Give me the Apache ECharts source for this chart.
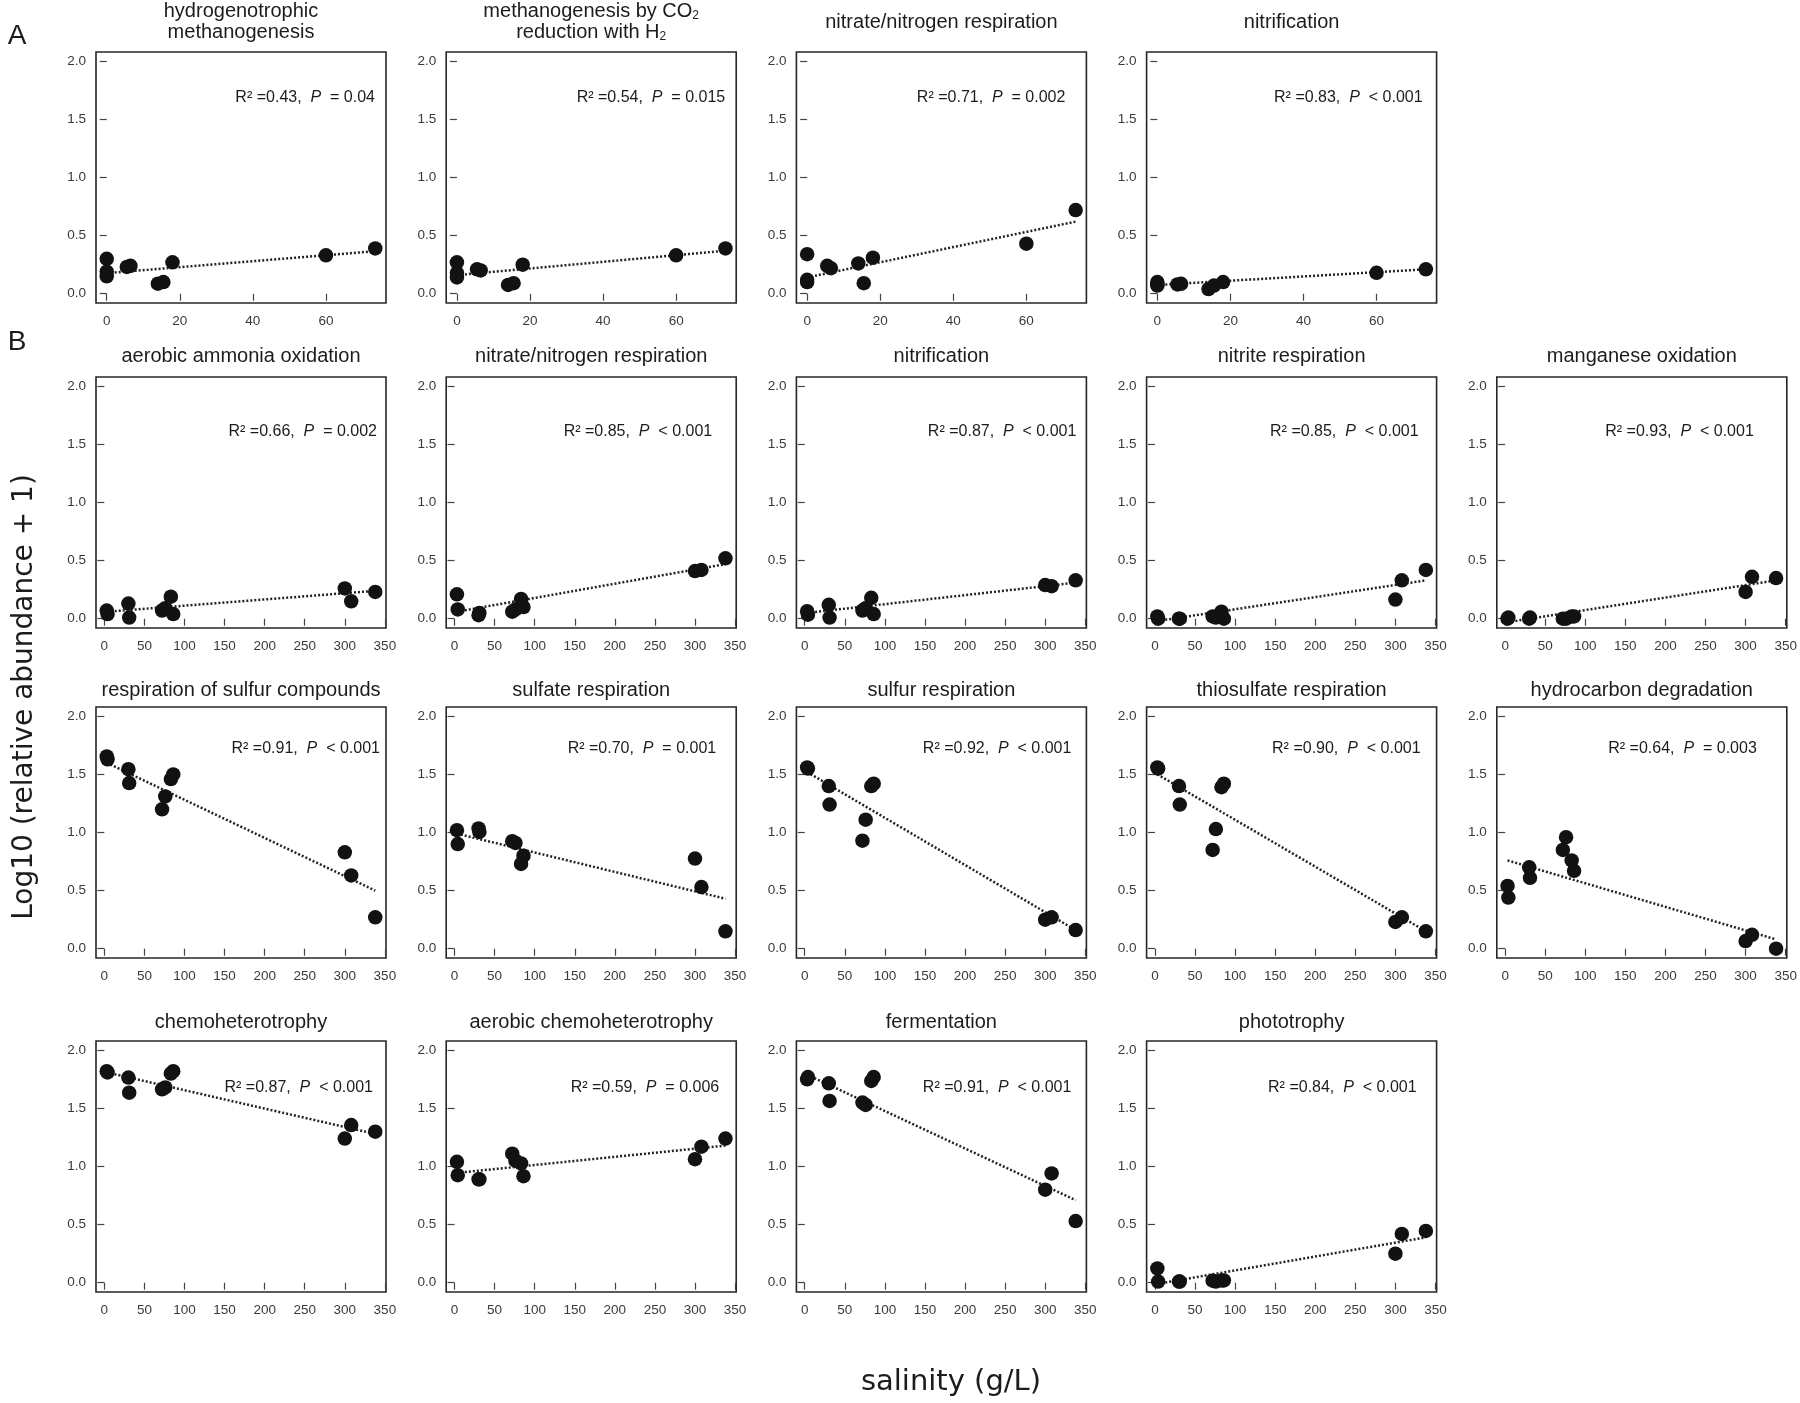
<!doctype html>
<html>
<head>
<meta charset="UTF-8">
<title>salinity vs functional groups</title>
<script src="https://cdn.jsdelivr.net/npm/echarts@6.0.0/dist/echarts.min.js"></script>
<style>
	html, body { margin: 0; padding: 0; background: #fff; }
	#chart { width: 1800px; height: 1403px; }
</style>
</head>
<body>
<div id="chart"></div>
<script>
// salinity of the samples (g/L)
var salinityA = [0, 0, 0, 5.5, 6.5, 14, 15.5, 18, 60, 73.5];
var salinityB = [3, 4, 30, 31, 72, 76, 83, 86, 300, 308, 338];

var titles = [
	'hydrogenotrophic\nmethanogenesis',
	'methanogenesis by CO{sub|2}\nreduction with H{sub|2}',
	'nitrate/nitrogen respiration',
	'nitrification',
	'aerobic ammonia oxidation',
	'nitrate/nitrogen respiration',
	'nitrification',
	'nitrite respiration',
	'manganese oxidation',
	'respiration of sulfur compounds',
	'sulfate respiration',
	'sulfur respiration',
	'thiosulfate respiration',
	'hydrocarbon degradation',
	'chemoheterotrophy',
	'aerobic chemoheterotrophy',
	'fermentation',
	'phototrophy'
];

// Log10(relative abundance + 1), panel A (same order as salinityA)
var aHydro   = [0.30, 0.19, 0.15, 0.23, 0.24, 0.086, 0.10, 0.27, 0.33, 0.39];
var aMethCO2 = [0.27, 0.18, 0.14, 0.21, 0.20, 0.075, 0.09, 0.25, 0.33, 0.39];
var aNitrate = [0.34, 0.12, 0.10, 0.24, 0.22, 0.26, 0.09, 0.31, 0.43, 0.72];
var aNitrif  = [0.10, 0.08, 0.07, 0.08, 0.085, 0.04, 0.07, 0.10, 0.18, 0.21];

// panel B (same order as salinityB)
var bAmmonia   = [0.07, 0.04, 0.13, 0.01, 0.07, 0.09, 0.19, 0.04, 0.26, 0.15, 0.23];
var bNitrate   = [0.21, 0.08, 0.03, 0.05, 0.06, 0.08, 0.17, 0.10, 0.41, 0.42, 0.52];
var bNitrif    = [0.065, 0.035, 0.12, 0.01, 0.07, 0.09, 0.18, 0.04, 0.29, 0.28, 0.33];
var bNitrite   = [0.02, 0.0, 0.0, 0.0, 0.02, 0.01, 0.06, 0.0, 0.165, 0.33, 0.42];
var bManganese = [0.0, 0.01, 0.0, 0.01, 0.0, 0.0, 0.02, 0.02, 0.23, 0.36, 0.35];
var bSulfurCmp = [1.655, 1.63, 1.545, 1.425, 1.20, 1.31, 1.46, 1.50, 0.83, 0.63, 0.27];
var bSulfate   = [1.02, 0.90, 1.035, 1.005, 0.925, 0.91, 0.73, 0.80, 0.776, 0.53, 0.15];
var bSulfur    = [1.56, 1.55, 1.40, 1.24, 0.93, 1.11, 1.40, 1.42, 0.25, 0.27, 0.16];
var bThiosulf  = [1.56, 1.55, 1.40, 1.24, 0.85, 1.03, 1.39, 1.42, 0.23, 0.27, 0.15];
var bHydrocarb = [0.54, 0.44, 0.70, 0.61, 0.85, 0.96, 0.76, 0.67, 0.066, 0.12, 0.0];
var bChemo     = [1.82, 1.81, 1.765, 1.635, 1.664, 1.68, 1.80, 1.82, 1.24, 1.357, 1.30];
var bAerChemo  = [1.04, 0.925, 0.89, 0.89, 1.11, 1.05, 1.026, 0.917, 1.063, 1.17, 1.24];
var bFerment   = [1.75, 1.77, 1.716, 1.564, 1.55, 1.53, 1.736, 1.77, 0.80, 0.94, 0.53];
var bPhoto     = [0.123, 0.01, 0.01, 0.01, 0.017, 0.01, 0.02, 0.02, 0.25, 0.42, 0.445];

var values = [aHydro, aMethCO2, aNitrate, aNitrif,
	bAmmonia, bNitrate, bNitrif, bNitrite, bManganese,
	bSulfurCmp, bSulfate, bSulfur, bThiosulf, bHydrocarb,
	bChemo, bAerChemo, bFerment, bPhoto];

// fitted line, value at lowest and highest salinity
var fitStart = [0.177, 0.16, 0.14, 0.075, 0.06, 0.06, 0.05, -0.02, -0.03, 1.60, 0.99, 1.52, 1.50, 0.76, 1.81, 0.945, 1.79, -0.01];
var fitEnd   = [0.366, 0.37, 0.62, 0.21, 0.24, 0.47, 0.31, 0.33, 0.33, 0.50, 0.43, 0.16, 0.15, 0.08, 1.28, 1.18, 0.71, 0.39];

var r2 = ['0.43', '0.54', '0.71', '0.83', '0.66', '0.85', '0.87', '0.85', '0.93',
	'0.91', '0.70', '0.92', '0.90', '0.64', '0.87', '0.59', '0.91', '0.84'];
var pText = ['= 0.04', '= 0.015', '= 0.002', '< 0.001', '= 0.002', '< 0.001', '< 0.001', '< 0.001', '< 0.001',
	'< 0.001', '= 0.001', '< 0.001', '< 0.001', '= 0.003', '< 0.001', '= 0.006', '< 0.001', '< 0.001'];

var xTicksA = [0, 20, 40, 60];
var xTicksB = [0, 50, 100, 150, 200, 250, 300, 350];
var yTicks = [0, 0.5, 1, 1.5, 2];

// layout
var panelRow = [0, 0, 0, 0, 1, 1, 1, 1, 1, 2, 2, 2, 2, 2, 3, 3, 3, 3];
var panelCol = [0, 1, 2, 3, 0, 1, 2, 3, 4, 0, 1, 2, 3, 4, 0, 1, 2, 3];
var annGap = [11, 11, 21, 14, 9, 24, 10, 18, 33, 6, 20, 15, 16, 30, 13, 17, 15, 20];
var rowTop = [52, 377, 707, 1041];
var titleY = [22, 356, 690, 1022];
var annDown = [46, 55, 42, 47];
var boxLeft0 = 96, boxStep = 350.2, boxW = 290, boxH = 251;

var sans = '"Liberation Sans", Arial, Helvetica, sans-serif';
var grids = [], xAxes = [], yAxes = [], series = [], graphics = [];

titles.forEach(function(t, i) {
	var r = panelRow[i], c = panelCol[i];
	var left = boxLeft0 + boxStep * c;
	var top = rowTop[r];
	var isA = (r === 0);
	var xs = isA ? salinityA : salinityB;

	grids.push({
		left: left, top: top, width: boxW, height: boxH,
		show: true, borderColor: '#262626', borderWidth: 1.6, backgroundColor: 'transparent'
	});

	xAxes.push({
		gridIndex: i, type: 'value',
		min: isA ? -2.94 : -10.4,
		max: isA ? 76.44 : 351.4,
		offset: 2,
		axisLine: { show: false },
		axisTick: { show: true, length: 7, customValues: isA ? xTicksA : xTicksB, lineStyle: { color: '#444', width: 1.2 } },
		axisLabel: { customValues: isA ? xTicksA : xTicksB, fontSize: 13.5, color: '#3a3a3a', margin: 9, fontFamily: sans },
		splitLine: { show: false }
	});

	yAxes.push({
		gridIndex: i, type: 'value', min: -0.08, max: 2.08,
		offset: 3,
		axisLine: { show: false },
		axisTick: { show: true, length: 7, customValues: yTicks, lineStyle: { color: '#444', width: 1.2 } },
		axisLabel: {
			customValues: yTicks, fontSize: 13.5, color: '#3a3a3a', margin: 7, fontFamily: sans,
			formatter: function(v) { return Number(v).toFixed(1); }
		},
		splitLine: { show: false }
	});

	series.push({
		type: 'scatter', xAxisIndex: i, yAxisIndex: i,
		data: xs.map(function(x, k) { return [x, values[i][k]]; }),
		symbolSize: 14.5,
		itemStyle: { color: '#121212', opacity: 1 },
		clip: false,
		silent: true,
		z: 3
	});

	series.push({
		type: 'line', xAxisIndex: i, yAxisIndex: i,
		data: [[xs[0], fitStart[i]], [xs[xs.length - 1], fitEnd[i]]],
		symbol: 'none',
		lineStyle: { type: [2, 2], width: 2.5, color: '#222' },
		silent: true,
		z: 2
	});

	// panel title
	graphics.push({
		type: 'text', x: left + boxW / 2, y: titleY[r],
		style: {
			text: t, fontSize: 20, fontFamily: sans, fill: '#1c1c1c',
			align: 'center', verticalAlign: 'middle', lineHeight: 21,
			rich: { sub: { fontSize: 12, lineHeight: 12, verticalAlign: 'bottom', fontFamily: sans, fill: '#1c1c1c' } }
		}
	});

	// R2 / P annotation
	graphics.push({
		type: 'text', x: left + boxW - annGap[i], y: top + annDown[r],
		style: {
			text: 'R\u00b2 =' + r2[i] + ',  {i|P}  ' + pText[i],
			fontSize: 16, fontFamily: sans, fill: '#1c1c1c',
			align: 'right', verticalAlign: 'middle',
			rich: { i: { fontStyle: 'italic', fontSize: 16, fontFamily: sans, fill: '#1c1c1c' } }
		}
	});
});

// panel letters and shared axis names
graphics.push({ type: 'text', x: 17, y: 36, style: { text: 'A', fontSize: 28, fontFamily: sans, fill: '#1c1c1c', align: 'center', verticalAlign: 'middle' } });
graphics.push({ type: 'text', x: 17, y: 342, style: { text: 'B', fontSize: 28, fontFamily: sans, fill: '#1c1c1c', align: 'center', verticalAlign: 'middle' } });
graphics.push({
	type: 'text', x: 25, y: 697, rotation: Math.PI / 2,
	style: { text: 'Log10 (relative abundance + 1)', fontSize: 28, fontFamily: '"DejaVu Sans", sans-serif', fill: '#1c1c1c', align: 'center', verticalAlign: 'middle' }
});
graphics.push({
	type: 'text', x: 951, y: 1382,
	style: { text: 'salinity (g/L)', fontSize: 29, fontFamily: '"DejaVu Sans", sans-serif', fill: '#1c1c1c', align: 'center', verticalAlign: 'middle' }
});

var chart = echarts.init(document.getElementById('chart'));
chart.setOption({
	animation: false,
	backgroundColor: '#fff',
	grid: grids,
	xAxis: xAxes,
	yAxis: yAxes,
	series: series,
	graphic: graphics
});
</script>
</body>
</html>
